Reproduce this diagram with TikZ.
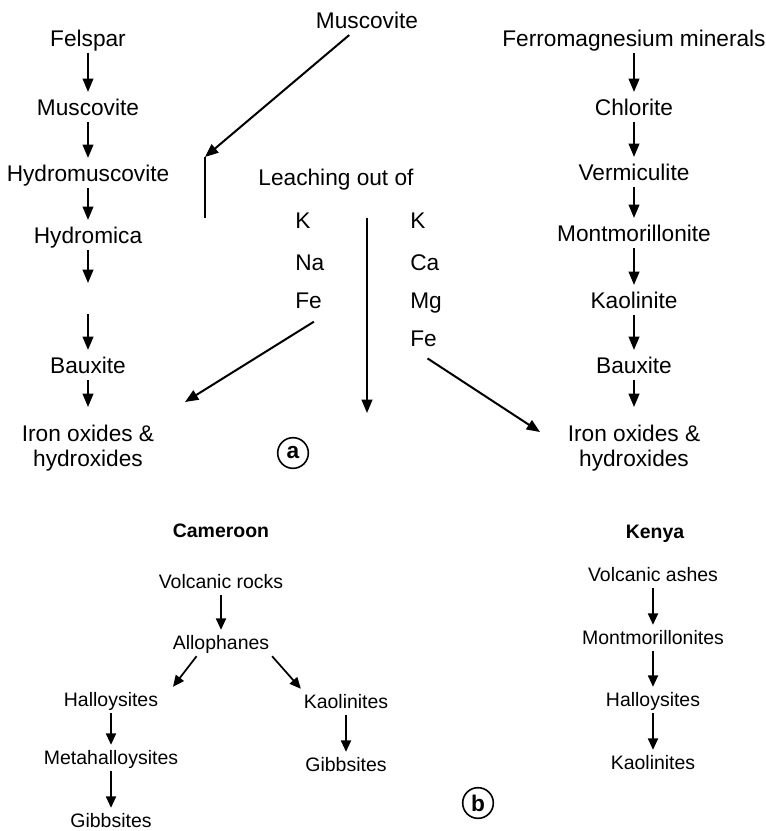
\documentclass[tikz,border=0pt]{standalone}
\usepackage{fontspec}
\setmainfont{Liberation Sans}
\usepackage{tikz}
\usetikzlibrary{arrows.meta,positioning,calc}
\newcommand{\topfont}{\fontsize{17}{19}\selectfont}
\newcommand{\botfont}{\fontsize{14.6}{17}\selectfont}
\tikzset{
    flow/.style={-{Triangle[length=10pt, width=8pt]}, line width=1.5pt},
    smallflow/.style={-{Triangle[length=8.5pt, width=7.5pt]}, line width=1.3pt},
    mineral/.style={font=\topfont, inner xsep=2pt, inner ysep=5pt, text height=12.2pt, text depth=0pt},
    element/.style={mineral, anchor=west, inner xsep=0pt},
    endnode/.style={font=\topfont, align=center, anchor=north, inner ysep=13pt},
    sample/.style={font=\botfont, inner xsep=2pt, inner ysep=4.5pt, text height=10.4pt, text depth=0pt},
    site/.style={sample, font=\botfont\bfseries},
    panel/.style={draw, circle, line width=1.2pt, minimum size=23pt, inner sep=0pt, font=\topfont\bfseries}
}

\begin{document}
\begin{tikzpicture}[x=0.75pt, y=-0.75pt]
    \useasboundingbox (0,0) rectangle (766,831);

    % (a) left series
    \node[mineral] (felspar) at (88,38) {Felspar};
    \node[mineral] (muscL) at (88,107) {Muscovite};
    \node[mineral] (hydromusc) at (88,173) {Hydromuscovite};
    \node[mineral] (hydromica) at (88,235) {Hydromica};
    \coordinate (gapA) at (88,283);
    \coordinate (gapB) at (88,314);
    \node[mineral] (bauxL) at (88,365) {Bauxite};
    \node[endnode] (ironL) at (88,407) {Iron oxides \&\\hydroxides};

    % (a) right series
    \node[mineral] (ferro) at (634,38) {Ferromagnesium minerals};
    \node[mineral] (chlorite) at (634,107) {Chlorite};
    \node[mineral] (vermic) at (634,172) {Vermiculite};
    \node[mineral] (montR) at (634,233) {Montmorillonite};
    \node[mineral] (kaolR) at (634,300) {Kaolinite};
    \node[mineral] (bauxR) at (634,365) {Bauxite};
    \node[endnode] (ironR) at (634,407) {Iron oxides \&\\hydroxides};

    % (a) middle
    \node[mineral] (muscTop) at (367,20) {Muscovite};
    \coordinate (barTop) at (205,157);
    \coordinate (barBot) at (205,218);
    \node[mineral] (leach) at (336,177) {Leaching out of};
    \node[element] (kL) at (295,220) {K};
    \node[element] (naL) at (295,262) {Na};
    \node[element] (feL) at (295,300) {Fe};
    \node[element] (kR) at (410,220) {K};
    \node[element] (caR) at (410,262) {Ca};
    \node[element] (mgR) at (410,300) {Mg};
    \node[element] (feR) at (410,338) {Fe};
    \coordinate (leachTop) at (367,218);
    \coordinate (leachBot) at (367,413);
    \coordinate (leachL) at (185,402);
    \coordinate (leachR) at (540,432);
    \node[panel] (panelA) at (293,453) {a};

    \foreach \a/\b in {felspar/muscL, muscL/hydromusc, hydromusc/hydromica, hydromica/gapA,
                       gapB/bauxL, bauxL/ironL, ferro/chlorite, chlorite/vermic, vermic/montR,
                       montR/kaolR, kaolR/bauxR, bauxR/ironR, muscTop/barTop, leachTop/leachBot}
        \draw[flow] (\a) -- (\b);
    \draw[line width=1.5pt] (barTop) -- (barBot);
    \draw[flow] ([xshift=4pt,yshift=-5pt]feL.south) -- (leachL);
    \draw[flow] ([xshift=3pt,yshift=-4pt]feR.south) -- (leachR);

    % (b) Cameroon
    \node[site] (cameroon) at (221,531) {Cameroon};
    \node[sample] (vrocks) at (221,582) {Volcanic rocks};
    \node[sample] (allo) at (221,643) {Allophanes};
    \node[sample] (halloC) at (111,700) {Halloysites};
    \node[sample] (meta) at (111,758) {Metahalloysites};
    \node[sample] (gibbC) at (111,821) {Gibbsites};
    \node[sample] (kaolC) at (346,702) {Kaolinites};
    \node[sample] (gibbK) at (346,765) {Gibbsites};

    % (b) Kenya
    \node[site] (kenya) at (655,532) {Kenya};
    \node[sample] (vashes) at (653,575) {Volcanic ashes};
    \node[sample] (montK) at (653,638) {Montmorillonites};
    \node[sample] (halloK) at (653,700) {Halloysites};
    \node[sample] (kaolK) at (653,763) {Kaolinites};
    \node[panel] (panelB) at (478,803) {b};

    \foreach \a/\b in {vrocks/allo, halloC/meta, meta/gibbC, kaolC/gibbK,
                       vashes/montK, montK/halloK, halloK/kaolK}
        \draw[smallflow] (\a) -- (\b);
    \draw[smallflow] ([xshift=20pt]allo.south west) -- ([xshift=9pt]halloC.north east);
    \draw[smallflow] (allo.south east) -- (kaolC.north west);
\end{tikzpicture}
\end{document}
